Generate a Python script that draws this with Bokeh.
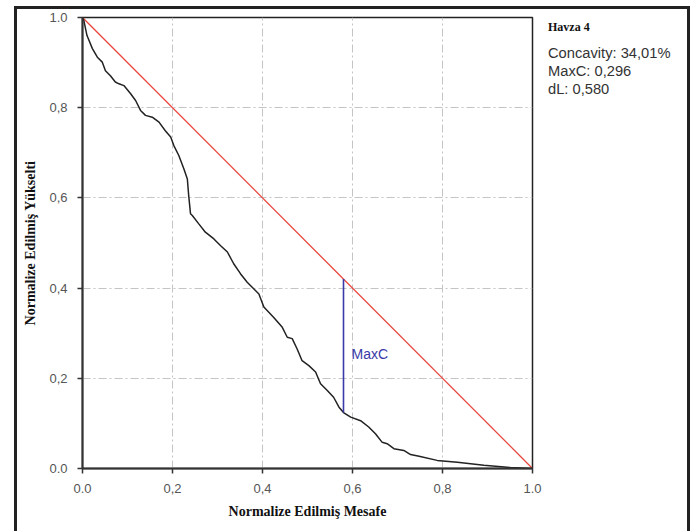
from bokeh.plotting import figure
from bokeh.models import Range1d, FixedTicker, Label, Div, Spacer
from bokeh.layouts import row
from bokeh.embed import file_html
from bokeh.resources import INLINE

# ---- data ----
curve_x = [0.000, 0.003, 0.010, 0.022, 0.033, 0.044, 0.051, 0.062, 0.073, 0.081,
           0.092, 0.107, 0.118, 0.129, 0.140, 0.155, 0.170, 0.184, 0.196, 0.203,
           0.214, 0.225, 0.233, 0.236, 0.240, 0.244, 0.258, 0.273, 0.292, 0.307,
           0.322, 0.336, 0.351, 0.366, 0.381, 0.392, 0.403, 0.425, 0.444, 0.455,
           0.466, 0.477, 0.488, 0.503, 0.518, 0.529, 0.544, 0.558, 0.570, 0.580,
           0.596, 0.618, 0.636, 0.651, 0.666, 0.677, 0.692, 0.714, 0.729, 0.748,
           0.788, 0.833, 0.892, 0.951, 1.000]
curve_y = [1.000, 0.993, 0.960, 0.931, 0.912, 0.901, 0.882, 0.871, 0.857, 0.853,
           0.849, 0.831, 0.816, 0.794, 0.783, 0.779, 0.768, 0.749, 0.735, 0.716,
           0.694, 0.665, 0.642, 0.605, 0.565, 0.561, 0.543, 0.524, 0.509, 0.494,
           0.480, 0.454, 0.432, 0.413, 0.398, 0.387, 0.358, 0.335, 0.313, 0.291,
           0.288, 0.265, 0.239, 0.228, 0.214, 0.188, 0.173, 0.158, 0.136, 0.124,
           0.114, 0.106, 0.092, 0.077, 0.058, 0.055, 0.044, 0.040, 0.031, 0.027,
           0.018, 0.014, 0.007, 0.002, 0.000]
ref_x = [0.0, 1.0]
ref_y = [1.0, 0.0]
dL = 0.580
maxc_bottom = 0.124
maxc_top = 0.420
ticks = [0.0, 0.2, 0.4, 0.6, 0.8, 1.0]
tick_labels = ["0.0", "0,2", "0,4", "0,6", "0,8", "1.0"]
info_title = "Havza 4"
info_lines = ["Concavity: 34,01%", "MaxC: 0,296", "dL: 0,580"]

p = figure(width=525, height=528, output_backend="svg", toolbar_location=None,
           x_range=Range1d(0, 1), y_range=Range1d(0, 1),
           min_border_left=65, min_border_right=10, min_border_top=11, min_border_bottom=66)
p.border_fill_color = None
p.background_fill_color = "white"
p.outline_line_color = "#222222"
p.outline_line_width = 1.5

labels = {t: l for t, l in zip(ticks, tick_labels)}
for ax in (p.xaxis[0], p.yaxis[0]):
    ax.ticker = FixedTicker(ticks=ticks)
    ax.major_label_overrides = labels
    ax.axis_line_color = "#333333"
    ax.axis_line_width = 2
    ax.major_tick_line_color = "#333333"
    ax.major_tick_line_width = 1.5
    ax.major_tick_out = 5
    ax.major_tick_in = 0
    ax.minor_tick_line_color = None
    ax.major_label_text_font = "Liberation Sans"
    ax.major_label_text_font_size = "13px"
    ax.major_label_text_color = "#555555"
    ax.axis_label_text_font = "Liberation Serif"
    ax.axis_label_text_font_style = "bold"
    ax.axis_label_text_font_size = "14px"
    ax.axis_label_text_color = "#111111"

p.xaxis.axis_label = "Normalize Edilmiş Mesafe"
p.yaxis.axis_label = "Normalize Edilmiş Yükselti"
p.xaxis.major_label_standoff = 10
p.yaxis.major_label_standoff = 10
p.xaxis.axis_label_standoff = 8
p.yaxis.axis_label_standoff = 8

for g in (p.xgrid[0], p.ygrid[0]):
    g.ticker = FixedTicker(ticks=ticks)
    g.grid_line_color = "#c4c4c4"
    g.grid_line_dash = "8 3 2 3"
    g.grid_line_width = 1

p.line(ref_x, ref_y, line_color="#e8453c", line_width=1.3)
p.line(curve_x, curve_y, line_color="#222222", line_width=1.5)
p.line([dL, dL], [maxc_bottom, maxc_top], line_color="#3a3aa8", line_width=1.6)

p.add_layout(Label(x=0.598, y=0.253, text="MaxC",
                   text_font="Liberation Sans", text_font_size="14px",
                   text_color="#3a3aa8", text_baseline="middle"))

# left edge of the outer frame
gap = Spacer(width=3, height=528, styles={"background-color": "#222222"})

# info panel to the right of the plot
spans = [f"<span style='position:absolute;left:1px;top:10px;font-family:\"Liberation Serif\";"
         f"font-weight:bold;font-size:12px;line-height:12px;color:#111;white-space:nowrap'>{info_title}</span>"]
for i, t in enumerate(info_lines):
    spans.append(f"<span style='position:absolute;left:1px;top:{35 + i * 18}px;"
                 f"font-family:\"Liberation Sans\";font-size:14.7px;line-height:15px;color:#333;"
                 f"white-space:nowrap'>{t}</span>")
info = Div(text="<div style='position:relative;width:130px;height:120px'>" + "".join(spans) + "</div>",
           width=138, height=528)

layout = row(gap, p, info)
layout.styles = {"outline": "3px solid #222222", "outline-offset": "-3px",
                 "margin-left": "14px", "margin-top": "6px", "margin-bottom": "-6px"}

open("out.html", "w").write(file_html(layout, INLINE))
